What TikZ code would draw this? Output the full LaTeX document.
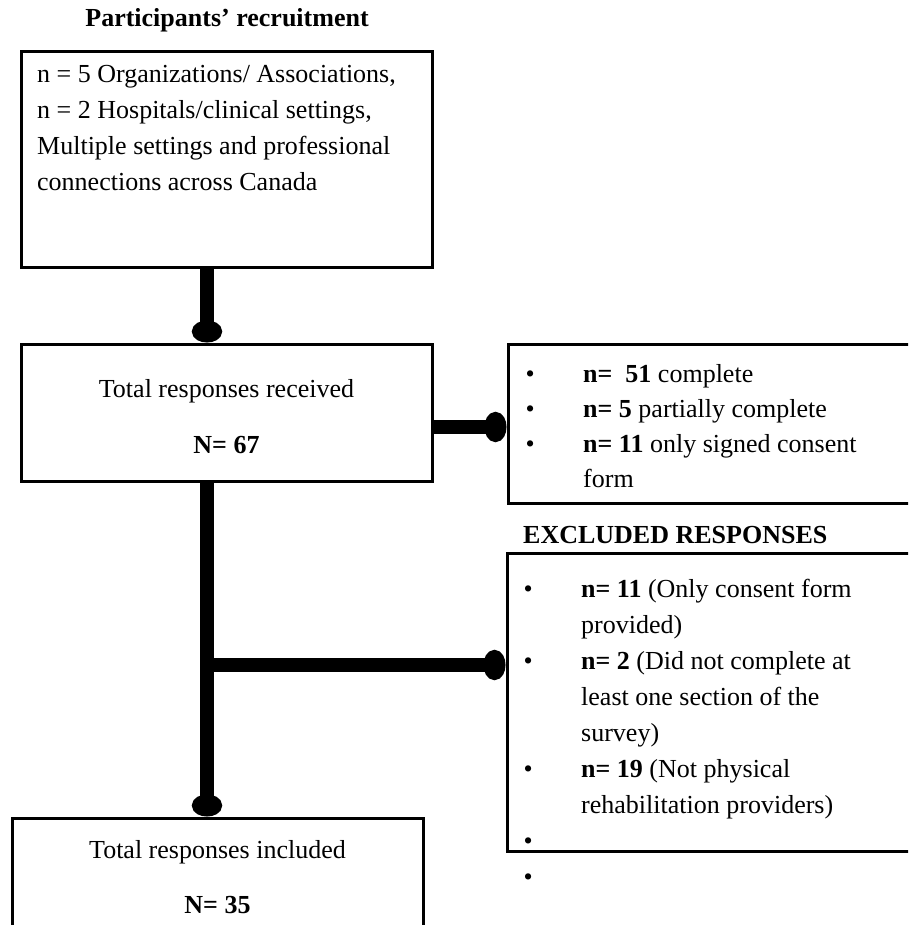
\documentclass[tikz,border=0pt]{standalone}
\usepackage{fontspec}
\setmainfont{Liberation Serif}
\usetikzlibrary{arrows.meta}

\newcommand{\itm}{\makebox[57.5pt][l]{\textbullet}}
\newcommand{\gap}{\hspace*{57.5pt}}

\begin{document}
\begin{tikzpicture}[x=1pt,y=-1pt,
  box/.style={draw,line width=3pt,inner sep=0pt},
  txt/.style={inner sep=0pt,align=left,font={\fontsize{26}{36}\selectfont}},
  conn/.style={line width=14pt,-{Ellipse[length=22pt,width=30pt]}}]

\clip (0,0) rectangle (908,925);

\node[txt,anchor=base,font={\fontsize{26}{36}\selectfont\bfseries}] (title) at (227,27) {Participants' recruitment};

\node[box,minimum width=411pt,minimum height=215pt] (recruit) at (226.5,159.5) {};
\node[box,minimum width=411pt,minimum height=137pt] (received) at (226.5,412.5) {};
\node[box,minimum width=422pt,minimum height=159pt] (counts) at (719,423.5) {};
\node[box,minimum width=423pt,minimum height=298pt] (excluded) at (718.5,702) {};
\node[box,minimum width=411pt,minimum height=132pt] (included) at (217.5,884) {};

% multi-line texts sit on the baseline of their last line
\node[txt,anchor=base west] (recruittxt) at (37,191)
  {n = 5 Organizations/ Associations,\\ n = 2 Hospitals/clinical settings,\\
   Multiple settings and professional\\ connections across Canada};

\node[txt,anchor=base] (receivedtxt) at (226.5,397) {Total responses received};
\node[txt,anchor=base] (receivedn) at (226.5,453) {\textbf{N= 67}};

\node[txt,anchor=base west,font={\fontsize{26}{35}\selectfont}] (countstxt) at (525.5,487)
  {\itm\textbf{n=\ \ 51} complete\\ \itm\textbf{n= 5} partially complete\\
   \itm\textbf{n= 11} only signed consent\\ \gap form};

\node[txt,anchor=base west,font={\fontsize{26}{36}\selectfont\bfseries}] (exclhead) at (523,543) {EXCLUDED RESPONSES};

\node[txt,anchor=base west] (excludedtxt) at (523.5,885)
  {\itm\textbf{n= 11} (Only consent form\\ \gap provided)\\
   \itm\textbf{n= 2} (Did not complete at\\ \gap least one section of the\\ \gap survey)\\
   \itm\textbf{n= 19} (Not physical\\ \gap rehabilitation providers)\\ \itm\\ \itm};

\node[txt,anchor=base] (includedtxt) at (217.5,858) {Total responses included};
\node[txt,anchor=base] (includedn) at (217.5,913) {\textbf{N= 35}};

\coordinate (spine) at (207,0);
\coordinate (side) at (0,427);
\coordinate (branch) at (0,665);

\draw[conn] (spine |- recruit.south) -- (spine |- received.north);
\draw[conn] (received.east |- side) -- (counts.west |- side);
\draw[conn] (spine |- received.south) -- (spine |- included.north);
\draw[conn] (spine |- branch) -- (excluded.west |- branch);

\end{tikzpicture}
\end{document}
